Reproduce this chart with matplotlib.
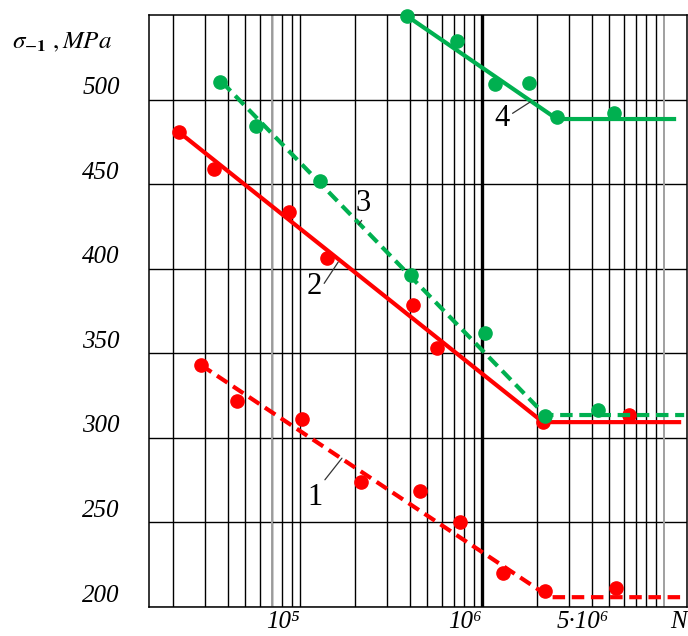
import numpy as np
import matplotlib
matplotlib.use('Agg')
import matplotlib.pyplot as plt
from matplotlib.ticker import LogLocator, NullFormatter
from matplotlib import transforms

plt.rcParams['font.family'] = ['Liberation Serif', 'DejaVu Serif']
plt.rcParams['mathtext.fontset'] = 'stix'

RED = '#ff0000'
GREEN = '#00b050'

# curve 1 - red, dashed
n1 = [2.86e4, 4.51e4, 1.03e5, 2.16e5, 4.56e5, 7.57e5, 1.30e6, 2.22e6, 5.45e6]
s1 = [343.0, 321.7, 311.1, 273.8, 268.5, 250.2, 220.0, 209.4, 211.1]
fit1_n = [2.86e4, 2.36e6, 1.29e7]
fit1_s = [343.0, 205.8, 205.8]

# curve 2 - red, solid
n2 = [2.16e4, 3.37e4, 8.7e4, 1.41e5, 4.18e5, 5.66e5, 2.16e6, 6.43e6]
s2 = [480.8, 458.9, 433.5, 406.3, 378.5, 353.1, 309.3, 313.5]
fit2_n = [2.16e4, 2.16e6, 1.21e7]
fit2_s = [480.8, 309.3, 309.3]

# curve 3 - green, dashed
n3 = [3.63e4, 5.73e4, 1.29e5, 4.07e5, 1.04e6, 2.22e6, 4.34e6]
s3 = [510.4, 484.4, 451.8, 396.2, 361.9, 312.9, 316.4]
fit3_n = [3.72e4, 2.22e6, 1.29e7]
fit3_s = [510.4, 313.5, 313.5]

# curve 4 - green, solid
n4 = [3.87e5, 7.3e5, 1.18e6, 1.81e6, 2.58e6, 5.31e6]
s4 = [549.4, 534.6, 509.2, 509.8, 489.7, 492.0]
fit4_n = [3.87e5, 2.58e6, 1.135e7]
fit4_s = [549.4, 488.5, 488.5]

# curve labels: text, text position, leader end on curve, leader start on text box
labels = [
    ('1', (1.21e5, 265.0), (1.70e5, 288.0), (1.0, 1.0)),
    ('2', (1.19e5, 389.7), (1.62e5, 403.9), (1.0, 0.45)),
    ('3', (2.22e5, 438.8), (2.10e5, 426.0), (0.6, 0.05)),
    ('4', (1.29e6, 489.1), (1.84e6, 498.6), (1.0, 0.6)),
]

x_ticks = [1e5, 1e6, 5e6]
x_ticklabels = ['10\u2075', '10\u2076', '5\u00b710\u2076']
y_ticks = [200, 250, 300, 350, 400, 450, 500]

fig = plt.figure(figsize=(6.88, 6.36), dpi=100)
ax = fig.add_axes([149 / 688, 29 / 636, 538 / 688, 592 / 636])

ax.set_xscale('log')
ax.set_xlim(1.48e4, 1.337e7)
ax.set_ylim(200, 550)

ax.xaxis.set_minor_locator(LogLocator(base=10, subs=np.arange(2, 10)))
ax.xaxis.set_minor_formatter(NullFormatter())
ax.grid(True, which='both', axis='x', color='black', lw=1.0)
ax.grid(True, which='major', axis='y', color='black', lw=1.0)
ax.axvline(1e6, color='black', lw=2.4, zorder=1)
for xg in (7e4, 1e7):
    ax.axvline(xg, color='#a0a0a0', lw=1.4, zorder=1)
ax.set_axisbelow(True)
for sp in ax.spines.values():
    sp.set_linewidth(1.1)

ax.set_yticks(y_ticks)
ax.set_yticklabels([str(v) for v in y_ticks], fontsize=18, fontstyle='italic')
ax.tick_params(axis='y', length=0, pad=21)
shift_up = transforms.ScaledTranslation(0, 10 / 72, fig.dpi_scale_trans)
for lab in ax.get_yticklabels():
    lab.set_transform(lab.get_transform() + shift_up)

ax.set_xticks(x_ticks)
ax.set_xticklabels(x_ticklabels, fontsize=18, fontstyle='italic', ha='right')
ax.tick_params(axis='x', which='both', length=0, pad=3)
ax.text(1.0, -0.006, 'N', transform=ax.transAxes, ha='right', va='top',
        fontsize=18, fontstyle='italic')

fig.text(12 / 688, 1 - 42 / 636, r'$\sigma_{-\mathbf{1}}\ ,MPa$',
         fontsize=18, ha='left', va='center')

dash = (3, 1.6)
ax.plot(fit1_n, fit1_s, color=RED, lw=3, dashes=dash, zorder=3)
ax.plot(n1, s1, 'o', color=RED, ms=9.5, zorder=4, clip_on=False)
ax.plot(fit2_n, fit2_s, color=RED, lw=3, zorder=3)
ax.plot(n2, s2, 'o', color=RED, ms=9.5, zorder=4, clip_on=False)
ax.plot(fit3_n, fit3_s, color=GREEN, lw=3, dashes=dash, zorder=5)
ax.plot(n3, s3, 'o', color=GREEN, ms=9.5, zorder=6, clip_on=False)
ax.plot(fit4_n, fit4_s, color=GREEN, lw=3, zorder=5)
ax.plot(n4, s4, 'o', color=GREEN, ms=9.5, zorder=6, clip_on=False)

for txt, pos, tip, rel in labels:
    ax.annotate(txt, xy=tip, xytext=pos, fontsize=22, ha='center',
                va='center', zorder=7,
                arrowprops=dict(arrowstyle='-', color='#333333', lw=0.9,
                                shrinkA=0, shrinkB=0, relpos=rel))

fig.savefig('out.png', dpi=100)
